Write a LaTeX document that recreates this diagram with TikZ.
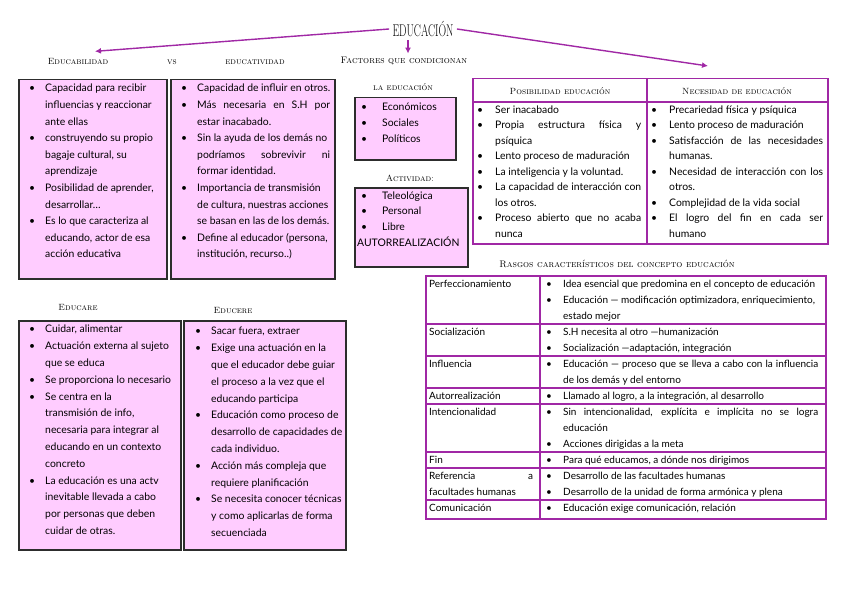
\documentclass[tikz,border=0pt]{standalone}
\usepackage{fontspec}
\newfontfamily\hand{Lato}
\usetikzlibrary{arrows.meta,positioning}
\definecolor{lila}{RGB}{160,40,165}
\definecolor{rosa}{RGB}{255,204,255}
\definecolor{borde}{RGB}{45,45,45}
\newcommand{\just}[2]{\makebox[#1][s]{#2}}

\begin{document}
\begin{tikzpicture}[
  x=1pt, y=-1pt,
  font=\hand\fontsize{10.4}{16.6}\selectfont,
  caja/.style={draw=borde, line width=1.5pt, fill=rosa, inner sep=0pt, anchor=north west},
  marco/.style={draw=lila, line width=1.5pt, inner sep=0pt, anchor=north west},
  raya/.style={lila, line width=1.5pt},
  lista/.style={inner sep=0pt, anchor=north west},
  tit/.style={font=\normalfont\scshape\fontsize{9}{11}\selectfont},
  flecha/.style={-{Latex[length=6pt,width=6pt]}, lila, line width=1.4pt}
]
\useasboundingbox (0,0) rectangle (848,599);

\node[font=\normalfont\fontsize{17}{17}\selectfont] (edu) at (423,29) {\scalebox{0.62}[1]{EDUCACIÓN}};

\node[tit] (hEducab) at (78,62) {Educabilidad};
\node[tit] (hVs) at (172,62) {vs};
\node[tit] (hEducat) at (255,62) {educatividad};
\node[tit, font=\normalfont\scshape\fontsize{9.5}{11}\selectfont] (hFact) at (404,61) {Factores que condicionan};
\node[tit] (hLaEdu) at (403,87) {la educación};
\node[tit] (hActiv) at (410,178) {Actividad:};
\node[tit] (hEducare) at (78,308) {Educare};
\node[tit] (hEducere) at (233,310) {Educere};
\node[tit, font=\normalfont\scshape\fontsize{9.5}{11}\selectfont] (hRasgos) at (617,264) {Rasgos característicos del concepto educación};

% cajas
\node[caja, minimum width=148pt, minimum height=199pt] (cajaA) at (18,79) {};
\node[caja, minimum width=164pt, minimum height=199pt] (cajaB) at (170,79) {};
\node[caja, minimum width=101pt, minimum height=62pt] (cajaC) at (354,97) {};
\node[caja, minimum width=113pt, minimum height=79pt] (cajaD) at (354,187) {};
\node[caja, minimum width=162pt, minimum height=229pt] (cajaE) at (18,320) {};
\node[caja, minimum width=162pt, minimum height=229pt] (cajaF) at (183,320) {};

\node[lista, below right=1pt and 11pt of cajaA.north west] (listaA) {\begin{tabular}{@{}p{16pt}@{}l@{}}
\textbullet & Capacidad para recibir\\
 & influencias y reaccionar\\
 & ante ellas\\
\textbullet & construyendo su propio\\
 & bagaje cultural, su\\
 & aprendizaje\\
\textbullet & Posibilidad de aprender,\\
 & desarrollar…\\
\textbullet & Es lo que caracteriza al\\
 & educando, actor de esa\\
 & acción educativa
\end{tabular}};

\node[lista, below right=1pt and 11pt of cajaB.north west] (listaB) {\begin{tabular}{@{}p{16pt}@{}l@{}}
\textbullet & Capacidad de influir en otros.\\
\textbullet & \just{133pt}{Más necesaria en S.H por}\\
 & estar inacabado.\\
\textbullet & Sin la ayuda de los demás no\\
 & \just{133pt}{podríamos sobrevivir ni}\\
 & formar identidad.\\
\textbullet & Importancia de transmisión\\
 & de cultura, nuestras acciones\\
 & se basan en las de los demás.\\
\textbullet & Define al educador (persona,\\
 & institución, recurso..)
\end{tabular}};

\node[lista, font=\hand\fontsize{10.4}{16}\selectfont, below right=2pt and 7pt of cajaC.north west] (listaC) {\begin{tabular}{@{}p{21pt}@{}l@{}}
\textbullet & Económicos\\
\textbullet & Sociales\\
\textbullet & Políticos
\end{tabular}};

\node[lista, font=\hand\fontsize{10.4}{15.7}\selectfont, below right=1pt and 7pt of cajaD.north west] (listaD) {\begin{tabular}{@{}p{21pt}@{}l@{}}
\textbullet & Teleológica\\
\textbullet & Personal\\
\textbullet & Libre\\
\multicolumn{2}{@{}l@{}}{\hspace*{-4pt}AUTORREALIZACIÓN}
\end{tabular}};

\node[lista, font=\hand\fontsize{10.4}{16.8}\selectfont, below right=1pt and 11pt of cajaE.north west] (listaE) {\begin{tabular}{@{}p{16pt}@{}l@{}}
\textbullet & Cuidar, alimentar\\
\textbullet & Actuación externa al sujeto\\
 & que se educa\\
\textbullet & Se proporciona lo necesario\\
\textbullet & Se centra en la\\
 & transmisión de info,\\
 & necesaria para integrar al\\
 & educando en un contexto\\
 & concreto\\
\textbullet & La educación es una actv\\
 & inevitable llevada a cabo\\
 & por personas que deben\\
 & cuidar de otras.
\end{tabular}};

\node[lista, font=\hand\fontsize{10.4}{16.8}\selectfont, below right=3pt and 12pt of cajaF.north west] (listaF) {\begin{tabular}{@{}p{16pt}@{}l@{}}
\textbullet & Sacar fuera, extraer\\
\textbullet & Exige una actuación en la\\
 & que el educador debe guiar\\
 & el proceso a la vez que el\\
 & educando participa\\
\textbullet & Educación como proceso de\\
 & desarrollo de capacidades de\\
 & cada individuo.\\
\textbullet & Acción más compleja que\\
 & requiere planificación\\
\textbullet & Se necesita conocer técnicas\\
 & y como aplicarlas de forma\\
 & secuenciada
\end{tabular}};

% tabla posibilidad / necesidad
\node[marco, minimum width=355pt, minimum height=165pt] (tabA) at (472,78) {};
\draw[raya] (472,102) -- (827,102);
\draw[raya] (647,78) -- (647,243);
\node[tit] (hPosib) at (560,91) {Posibilidad educación};
\node[tit] (hNeces) at (737,91) {Necesidad de educación};

\node[lista, font=\hand\fontsize{10.4}{15.5}\selectfont] (listaPos) at (477,102) {\begin{tabular}{@{}p{18pt}@{}l@{}}
\textbullet & Ser inacabado\\
\textbullet & \just{146pt}{Propia estructura física y}\\
 & psíquica\\
\textbullet & Lento proceso de maduración\\
\textbullet & La inteligencia y la voluntad.\\
\textbullet & \just{146pt}{La capacidad de interacción con}\\
 & los otros.\\
\textbullet & \just{146pt}{Proceso abierto que no acaba}\\
 & nunca
\end{tabular}};

\node[lista, font=\hand\fontsize{10.4}{15.5}\selectfont] (listaNec) at (651,102) {\begin{tabular}{@{}p{18pt}@{}l@{}}
\textbullet & Precariedad física y psíquica\\
\textbullet & Lento proceso de maduración\\
\textbullet & \just{154pt}{Satisfacción de las necesidades}\\
 & humanas.\\
\textbullet & \just{154pt}{Necesidad de interacción con los}\\
 & otros.\\
\textbullet & Complejidad de la vida social\\
\textbullet & \just{154pt}{El logro del fin en cada ser}\\
 & humano
\end{tabular}};

% tabla rasgos
\node[marco, minimum width=400pt, minimum height=243pt] (tabB) at (425,275) {};
\draw[raya] (540,275) -- (540,518);
\foreach \y in {324,356,388,404,452,468,500}
  \draw[raya] (425,\y) -- (825,\y);

\node[lista, font=\hand\fontsize{10}{16}\selectfont] (rasgos) at (429,276) {\begin{tabular}{@{}l@{}}
Perfeccionamiento\\ \\ \\
Socialización\\ \\
Influencia\\ \\
Autorrealización\\
Intencionalidad\\ \\ \\
Fin\\
\just{104pt}{Referencia a}\\
facultades humanas\\
Comunicación
\end{tabular}};

\node[lista, font=\hand\fontsize{10}{16}\selectfont] (rasgosDef) at (546,276) {\begin{tabular}{@{}p{17pt}@{}l@{}}
\textbullet & Idea esencial que predomina en el concepto de educación\\
\textbullet & Educación — modificación optimizadora, enriquecimiento,\\
 & estado mejor\\
\textbullet & S.H necesita al otro —humanización\\
\textbullet & Socialización —adaptación, integración\\
\textbullet & \just{255pt}{Educación — proceso que se lleva a cabo con la influencia}\\
 & de los demás y del entorno\\
\textbullet & Llamado al logro, a la integración, al desarrollo\\
\textbullet & \just{255pt}{Sin intencionalidad, explícita e implícita no se logra}\\
 & educación\\
\textbullet & Acciones dirigidas a la meta\\
\textbullet & Para qué educamos, a dónde nos dirigimos\\
\textbullet & Desarrollo de las facultades humanas\\
\textbullet & Desarrollo de la unidad de forma armónica y plena\\
\textbullet & Educación exige comunicación, relación
\end{tabular}};

% flechas
\coordinate (puntaR) at (708,66);
\draw[flecha] (edu.west) -- ([xshift=17pt,yshift=4pt]hEducab.north);
\draw[flecha] ([xshift=-15pt]edu.south) -- ([xshift=-15pt]edu.south |- hFact.north);
\draw[flecha] (edu.east) -- (puntaR);
\end{tikzpicture}
\end{document}
